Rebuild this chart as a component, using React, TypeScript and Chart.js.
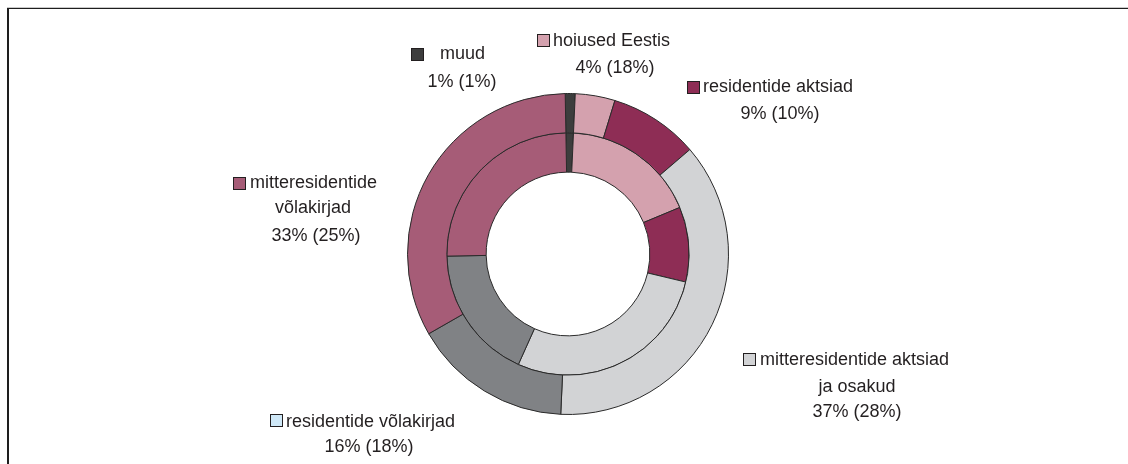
import React, { useEffect, useRef } from "react";
import { Chart, registerables } from "chart.js";

Chart.register(...registerables);

// Categories in clockwise order starting at 12 o'clock
const categories = [
  "muud",
  "hoiused Eestis",
  "residentide aktsiad",
  "mitteresidentide aktsiad ja osakud",
  "residentide võlakirjad",
  "mitteresidentide võlakirjad",
];
// Outer ring (current), inner ring (previous, shown in brackets)
const currentValues = [1, 4, 9, 37, 16, 33];
const previousValues = [1, 18, 10, 28, 18, 25];

const sliceColors = ["#3d3d3d", "#d4a1ae", "#8e2d55", "#d2d3d5", "#808285", "#a65c77"];
const keyColors = ["#3d3d3d", "#d4a1ae", "#8e2d55", "#d2d3d5", "#cfe8f7", "#a65c77"];

// Label text lines (first line follows the colour key)
const labelLines: string[][] = [
  ["muud"],
  ["hoiused Eestis"],
  ["residentide aktsiad"],
  ["mitteresidentide aktsiad", "ja osakud"],
  ["residentide võlakirjad"],
  ["mitteresidentide", "võlakirjad"],
];

// Layout of the labels: key box, first-line start, centers & baselines of later lines
const labelLayout = [
  { box: [411, 48], textX: 440, base: 59, centers: [462], bases: [87] },
  { box: [537, 34], textX: 553, base: 46, centers: [615], bases: [73] },
  { box: [687, 81], textX: 703, base: 92, centers: [780], bases: [119] },
  { box: [743, 353], textX: 760, base: 365, centers: [857, 857], bases: [392, 417] },
  { box: [270, 414], textX: 286, base: 427, centers: [369], bases: [452] },
  { box: [233, 177], textX: 250, base: 188, centers: [313, 316], bases: [213, 241] },
];

const FONT_SIZE = 18;
const FONT = `${FONT_SIZE}px "Liberation Sans", Arial, sans-serif`;
const TEXT_COLOR = "#231f20";
const ASCENT_OFFSET = FONT_SIZE * 0.847; // baseline offset inside a line box of height = font size

function Line({ text, left, center, baseline }: { text: string; left?: number; center?: number; baseline: number }) {
  const style: React.CSSProperties = {
    position: "absolute",
    top: baseline - ASCENT_OFFSET,
    font: FONT,
    lineHeight: `${FONT_SIZE}px`,
    color: TEXT_COLOR,
    whiteSpace: "nowrap",
  };
  if (center !== undefined) {
    style.left = center;
    style.transform = "translateX(-50%)";
  } else {
    style.left = left;
  }
  return <div style={style}>{text}</div>;
}

export default function App() {
  const canvasRef = useRef<HTMLCanvasElement | null>(null);

  useEffect(() => {
    if (!canvasRef.current) return;
    const chart = new Chart(canvasRef.current, {
      type: "doughnut",
      data: {
        labels: categories,
        datasets: [
          {
            data: currentValues,
            backgroundColor: sliceColors,
            borderColor: "#2a2a2a",
            borderWidth: 1,
          },
          {
            data: previousValues,
            backgroundColor: sliceColors,
            borderColor: "#2a2a2a",
            borderWidth: 1,
          },
        ],
      },
      options: {
        responsive: false,
        animation: false,
        devicePixelRatio: 1,
        cutout: "51%",
        rotation: -1,
        layout: { padding: { left: 407, right: 399, top: 93, bottom: 49 } },
        plugins: {
          legend: { display: false },
          tooltip: { enabled: false },
        },
      },
    });
    return () => chart.destroy();
  }, []);

  const labels: React.ReactNode[] = [];
  labelLayout.forEach((l, i) => {
    const pct = `${currentValues[i]}% (${previousValues[i]}%)`;
    labels.push(
      <div
        key={`box${i}`}
        style={{
          position: "absolute",
          left: l.box[0],
          top: l.box[1],
          width: 11,
          height: 11,
          background: keyColors[i],
          border: "1px solid #231f20",
        }}
      />
    );
    labels.push(<Line key={`t${i}`} text={labelLines[i][0]} left={l.textX} baseline={l.base} />);
    const rest = [...labelLines[i].slice(1), pct];
    rest.forEach((t, j) => {
      labels.push(<Line key={`t${i}_${j}`} text={t} center={l.centers[j]} baseline={l.bases[j]} />);
    });
  });

  return (
    <div style={{ position: "fixed", left: 0, top: 0, width: 1128, height: 464, background: "#fff", overflow: "hidden" }}>
      <canvas ref={canvasRef} width={1128} height={464} style={{ position: "absolute", left: 0, top: 0, display: "block" }} />
      <div style={{ position: "absolute", left: 7, top: 7, width: 1200, height: 0, borderTop: "1px solid #c9c9c9" }} />
      <div style={{ position: "absolute", left: 7, top: 8, width: 1200, height: 600, borderTop: "1px solid #1e1e1e", borderLeft: "2px solid #1e1e1e" }} />
      {labels}
    </div>
  );
}
